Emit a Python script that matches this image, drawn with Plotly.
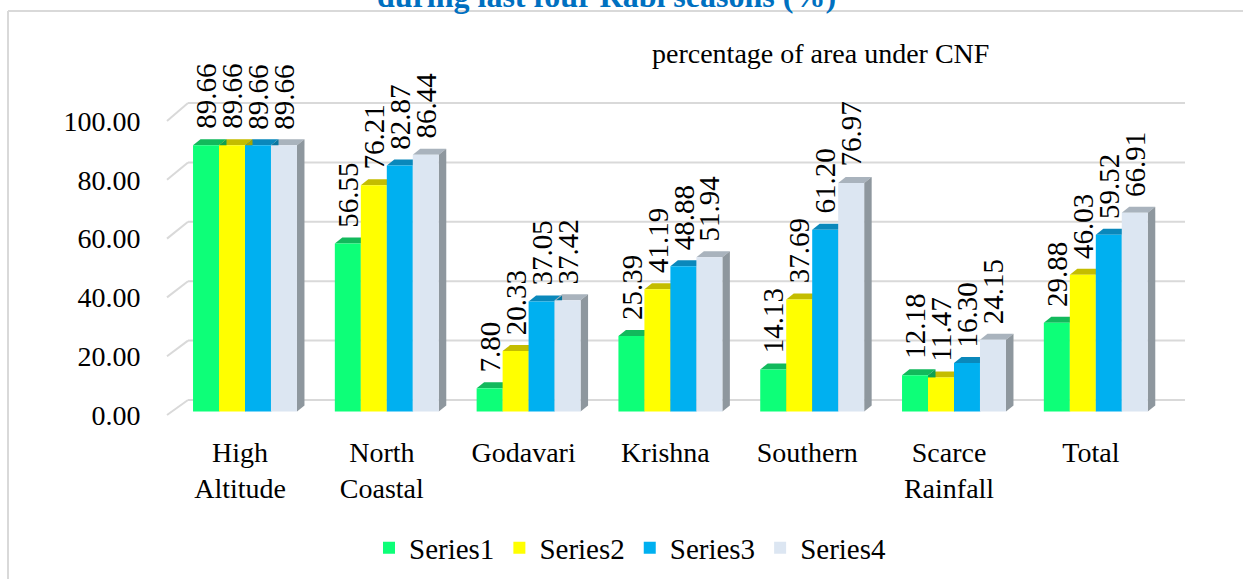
import plotly.graph_objects as go

categories = ["High<br>Altitude", "North<br>Coastal", "Godavari", "Krishna", "Southern", "Scarce<br>Rainfall", "Total"]
series_names = ["Series1", "Series2", "Series3", "Series4"]
series1 = [89.66, 56.55, 7.80, 25.39, 14.13, 12.18, 29.88]
series2 = [89.66, 76.21, 20.33, 41.19, 37.69, 11.47, 46.03]
series3 = [89.66, 82.87, 37.05, 48.88, 61.20, 16.30, 59.52]
series4 = [89.66, 86.44, 37.42, 51.94, 76.97, 24.15, 66.91]
tick_values = [0, 20, 40, 60, 80, 100]

front_colors = ["#0dff78", "#ffff00", "#00b0f0", "#dce6f2"]
top_colors = ["#12b95c", "#c4bd00", "#0a88bb", "#a9b3bd"]
side_colors = ["#0fa052", "#a8a300", "#07769f", "#8e979e"]

W, H = 1243, 579
PL, PR, PT, PB = 167, 1185, 60, 420          # plot area in pixels
GROUP_PX = 141.8                               # pixels per category
BAR_ZERO, BAR_SCALE = 411.5, 2.97              # bar axis: px of 0, px per unit
FRONT_ZERO, FRONT_SCALE = 415.0, 2.94          # front tick plane
BACK_ZERO, BACK_SCALE = 400.0, 2.97            # back wall gridlines
BACK_X = 188                                   # x where back wall starts
DEPTH_DX, DEPTH_DY = 7.5, 6.0                  # 3-D depth of bars in px
BARGAP = 0.267

def pxx(p):
    return (p - PL) / (PR - PL)

def pxy(p):
    return (PB - p) / (PB - PT)

x_first = 245
x_range = [(PL - x_first) / GROUP_PX, (PR - x_first) / GROUP_PX]
bar_range = [-(PB - BAR_ZERO) / BAR_SCALE, (BAR_ZERO - PT) / BAR_SCALE]
front_range = [-(PB - FRONT_ZERO) / FRONT_SCALE, (FRONT_ZERO - PT) / FRONT_SCALE]

all_series = [series1, series2, series3, series4]
xpos = list(range(len(categories)))
bw = (1 - BARGAP) / 4
dxu = DEPTH_DX / GROUP_PX
dyu = DEPTH_DY / BAR_SCALE

fig = go.Figure()
for i, (name, vals) in enumerate(zip(series_names, all_series)):
    fig.add_trace(go.Bar(
        x=xpos, y=vals, name=name, yaxis="y",
        marker=dict(color=front_colors[i], line=dict(width=0)),
        hoverinfo="skip",
    ))
# invisible trace that carries the front (tick-label) axis
fig.add_trace(go.Scatter(x=[0], y=[0], yaxis="y2", mode="markers", marker=dict(opacity=0),
                         showlegend=False, hoverinfo="skip"))

shapes = []
# border
shapes.append(dict(type="line", xref="paper", yref="paper", x0=pxx(8), x1=pxx(8), y0=pxy(11), y1=pxy(590),
                   line=dict(color="#d9d9d9", width=2), layer="below"))
shapes.append(dict(type="line", xref="paper", yref="paper", x0=pxx(8), x1=pxx(1250), y0=pxy(11), y1=pxy(11),
                   line=dict(color="#d9d9d9", width=2), layer="below"))
# gridlines (back wall + floor diagonals)
for v in tick_values:
    yb = BACK_ZERO - v * BACK_SCALE
    yf = FRONT_ZERO - v * FRONT_SCALE
    shapes.append(dict(type="line", xref="paper", yref="paper", x0=pxx(BACK_X), x1=pxx(PR), y0=pxy(yb), y1=pxy(yb),
                       line=dict(color="#d9d9d9", width=2), layer="below"))
    shapes.append(dict(type="line", xref="paper", yref="paper", x0=pxx(PL), x1=pxx(BACK_X), y0=pxy(yf), y1=pxy(yb),
                       line=dict(color="#d9d9d9", width=2), layer="below"))

# 3-D top faces and side faces of bars
tops, sides = [], []
for i, vals in enumerate(all_series):
    for k, v in zip(xpos, vals):
        x0 = k + (i - 1.5) * bw - bw / 2
        x1 = x0 + bw
        tops.append(dict(type="path", xref="x", yref="y",
                         path=f"M{x0},{v} L{x1},{v} L{x1+dxu},{v+dyu} L{x0+dxu},{v+dyu} Z",
                         fillcolor=top_colors[i], line=dict(width=0), layer="between"))
        sides.append(dict(type="path", xref="x", yref="y",
                          path=f"M{x1},0 L{x1},{v} L{x1+dxu},{v+dyu} L{x1+dxu},{dyu} Z",
                          fillcolor=side_colors[i], line=dict(width=0), layer="between"))
shapes += tops + sides

annotations = []
for i, vals in enumerate(all_series):
    for k, v in zip(xpos, vals):
        annotations.append(dict(
            x=k + (i - 1.5) * bw, y=v, xref="x", yref="y", text=f"{v:.2f}",
            showarrow=False, textangle=-90, yanchor="bottom", xanchor="center", yshift=14,
            font=dict(family="Liberation Serif", size=29, color="#000000"),
        ))
annotations.append(dict(x=pxx(606), y=pxy(-4), xref="paper", yref="paper",
                        text="<b>during last four Rabi seasons (%)</b>", showarrow=False,
                        xanchor="center", yanchor="middle",
                        font=dict(family="Liberation Serif", size=32, color="#0070c0")))
annotations.append(dict(x=pxx(820), y=pxy(53), xref="paper", yref="paper",
                        text="percentage of area under CNF", showarrow=False,
                        xanchor="center", yanchor="middle",
                        font=dict(family="Liberation Serif", size=28, color="#000000")))

fig.update_layout(
    width=W, height=H,
    margin=dict(l=PL, r=W - PR, t=PT, b=H - PB),
    paper_bgcolor="white", plot_bgcolor="rgba(0,0,0,0)",
    barmode="group", bargap=BARGAP, bargroupgap=0,
    showlegend=True,
    legend=dict(orientation="h", xref="container", yref="container", x=630 / W, y=(H - 548) / H,
                xanchor="center", yanchor="middle",
                font=dict(family="Liberation Serif", size=29, color="#000000"), traceorder="normal"),
    xaxis=dict(range=x_range, tickvals=[k - 0.035 for k in xpos], ticktext=categories,
               showgrid=False, zeroline=False, showline=False, ticks="outside", ticklen=7,
               tickcolor="rgba(0,0,0,0)",
               tickfont=dict(family="Liberation Serif", size=28, color="#000000")),
    yaxis=dict(range=bar_range, visible=False, showgrid=False, zeroline=False),
    yaxis2=dict(range=front_range, overlaying="y", side="left", tickvals=tick_values,
                ticktext=[f"{v:.2f}" for v in tick_values],
                showgrid=False, zeroline=False, showline=False, ticks="outside", ticklen=20,
                tickcolor="rgba(0,0,0,0)",
                tickfont=dict(family="Liberation Serif", size=28, color="#000000")),
    shapes=shapes, annotations=annotations,
)

fig.write_html("out.html", config={"displayModeBar": False},
               post_script="document.body.style.margin='0px';")
